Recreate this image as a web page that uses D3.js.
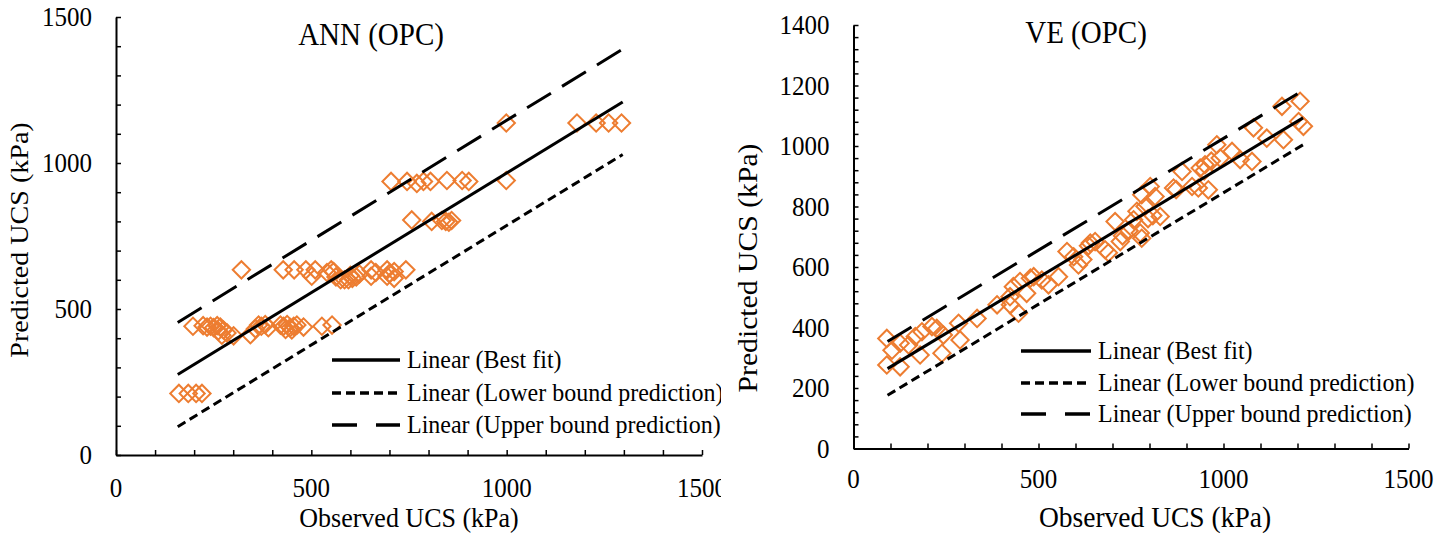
<!DOCTYPE html>
<html>
<head>
<meta charset="utf-8">
<script src="https://cdn.jsdelivr.net/npm/d3@7"></script>
<style>
  html, body { margin: 0; padding: 0; background: #fff; }
  svg { display: block; }
  text { font-family: "Liberation Serif", "Times New Roman", serif; fill: #000; }
</style>
</head>
<body>
<svg id="chart" width="1453" height="536"></svg>
<script>
// ---- ANN (OPC) data: observed vs predicted UCS (kPa) ----
const annObserved = [
  161, 185, 205, 220,
  197, 223, 233, 242, 250, 259, 267, 262, 275, 284, 271, 301, 344, 357, 365, 372,
  382, 390, 421, 429, 434, 438, 446, 450, 455, 463, 480, 527, 553,
  321, 428, 456, 486, 510, 540, 551, 557, 501, 563, 575, 585, 595, 600, 605, 615,
  623, 653, 653, 665, 694, 694, 700, 712, 712, 742,
  757, 808, 834, 844, 852, 859,
  704, 745, 770, 787, 805, 847, 886, 903, 999,
  999, 1180, 1229, 1261, 1294
];
const annPredicted = [
  211, 211, 211, 211,
  441, 443, 438, 441, 436, 443, 438, 425, 428, 418, 410, 408, 412, 432, 445, 441,
  447, 436, 445, 441, 430, 447, 436, 428, 441, 445, 438, 441, 445,
  634, 634, 634, 634, 634, 625, 634, 628, 612, 610, 600, 600, 600, 615, 605, 610,
  620, 634, 612, 625, 634, 612, 622, 628, 605, 634,
  805, 800, 803, 800, 797, 803,
  937, 937, 930, 937, 937, 940, 940, 937, 940,
  1137, 1137, 1137, 1137, 1137
];
// trend lines (observed range and predicted values at its ends)
const annFitRange = [158, 1297];
const annBestFit = [276, 1209];
const annLowerBound = [97, 1029];
const annUpperBound = [454, 1390];

// ---- VE (OPC) data ----
const veObserved = [
  90, 90, 104, 126, 126, 149, 167, 180, 185, 212, 225, 239, 243, 284, 288, 334,
  388, 424, 432, 423, 446, 450, 468, 478, 487, 509, 527, 554, 577, 608, 595, 640, 653,
  620, 635, 680, 707, 721, 757, 766, 775, 779, 779, 788, 802, 815, 829, 865, 888,
  915, 932, 937, 950, 959, 982, 991, 1023, 1045, 1077, 1081, 1117, 1158, 1162,
  1203, 1207, 1216,
  689, 727, 745, 796, 809, 872, 948, 967
];
const vePredicted = [
  364, 276, 325, 270, 348, 342, 370, 309, 386, 403, 397, 315, 375, 414, 359, 430,
  475, 475, 535, 502, 447, 552, 513, 563, 568, 557, 541, 568, 651, 607, 634, 679, 684,
  625, 670, 657, 750, 684, 756, 784, 712, 695, 839, 800, 866, 833, 767, 861, 916,
  866, 861, 927, 938, 855, 1004, 960, 982, 955, 949, 1060, 1026, 1131, 1021,
  1081, 1148, 1065,
  647, 703, 720, 760, 770, 856, 918, 950
];
const veFitRange = [92, 1215];
const veBestFit = [264, 1093];
const veLowerBound = [176, 1004];
const veUpperBound = [354, 1184];

const xTicksMajor = [0, 500, 1000, 1500];
const annYTicksMajor = [0, 500, 1000, 1500];
const veYTicksMajor = [0, 200, 400, 600, 800, 1000, 1200, 1400];

const legendLabels = ["Linear (Best fit)", "Linear (Lower bound prediction)", "Linear (Upper bound prediction)"];

const ORANGE = "#ED7D31";
const TEXT_STRETCH = 1.08;   // glyphs are drawn slightly taller than wide
const lineStyles = [
  { width: 3, dash: null },
  { width: 3, dash: "9,5" },
  { width: 3, dash: "28,13" }
];

const svg = d3.select("#chart");
const defs = svg.append("defs");
defs.append("clipPath").attr("id", "leftClip")
  .append("rect").attr("x", 0).attr("y", 0).attr("width", 721).attr("height", 536);

// horizontal text anchored at its baseline point, stretched vertically
function label(g, x, y, str, size, anchor, dy) {
  return g.append("text")
    .attr("transform", `translate(${x},${y}) scale(1,${TEXT_STRETCH})`)
    .attr("dy", dy || 0)
    .attr("text-anchor", anchor || "start")
    .attr("font-size", size)
    .text(str);
}

function drawPanel(root, cfg) {
  const x = d3.scaleLinear().domain([0, 1500]).range(cfg.xRange);
  const y = d3.scaleLinear().domain([0, cfg.yMax]).range(cfg.yRange);

  // axes with inward ticks
  const xAxis = d3.axisBottom(x)
    .tickValues(d3.range(0, 1501, 100))
    .tickSizeInner(-5).tickSizeOuter(0)
    .tickFormat("");
  const yAxis = d3.axisLeft(y)
    .tickValues(d3.range(0, cfg.yMax + 1, cfg.yMinorStep))
    .tickSizeInner(-5).tickSizeOuter(0)
    .tickFormat("");

  const gx = root.append("g").attr("transform", `translate(0,${cfg.yRange[0]})`).call(xAxis);
  const gy = root.append("g").attr("transform", `translate(${cfg.xRange[0]},0)`).call(yAxis);
  [gx, gy].forEach(g => {
    g.select(".domain").attr("stroke", "#000").attr("stroke-width", 2);
    g.selectAll(".tick line").attr("stroke", "#000").attr("stroke-width", 1.5);
  });

  // tick labels
  const tl = root.append("g");
  xTicksMajor.forEach(d => label(tl, x(d), cfg.xLabelBaseline, d, 25, "middle"));
  cfg.yTicksMajor.forEach(d => label(tl, cfg.xRange[0] - 24, y(d), d, 25, "end", "0.34em"));

  // axis titles
  label(root, cfg.xTitlePos[0], cfg.xTitlePos[1], "Observed UCS (kPa)", cfg.axisTitleSize, "middle");
  root.append("text")
    .attr("transform", `translate(${cfg.yTitlePos[0]},${cfg.yTitlePos[1]}) rotate(-90) scale(${TEXT_STRETCH},1)`)
    .attr("text-anchor", "middle").attr("dy", "0.34em").attr("font-size", cfg.axisTitleSize)
    .text("Predicted UCS (kPa)");

  // chart title
  label(root, cfg.titlePos[0], cfg.titlePos[1], cfg.title, 29, "middle");

  // scatter markers (open diamonds)
  const pts = cfg.obs.map((o, i) => [o, cfg.pred[i]]);
  const diamond = d3.symbol(d3.symbolSquare, 150);
  root.append("g").selectAll("path").data(pts).join("path")
    .attr("d", diamond)
    .attr("transform", d => `translate(${x(d[0])},${y(d[1])}) rotate(45)`)
    .attr("fill", "none").attr("stroke", ORANGE).attr("stroke-width", 2);

  // trend lines
  const line = d3.line().x(d => x(d[0])).y(d => y(d[1]));
  cfg.lines.forEach((vals, i) => {
    const p = root.append("path")
      .datum(cfg.fitRange.map((xv, k) => [xv, vals[k]]))
      .attr("d", line)
      .attr("fill", "none").attr("stroke", "#000")
      .attr("stroke-width", lineStyles[i].width);
    if (lineStyles[i].dash) p.attr("stroke-dasharray", lineStyles[i].dash);
  });

  // legend
  const lg = root.append("g");
  legendLabels.forEach((lab, i) => {
    const ly = cfg.legendRows[i];
    const l = lg.append("line")
      .attr("x1", cfg.legendX[0]).attr("x2", cfg.legendX[1])
      .attr("y1", ly).attr("y2", ly)
      .attr("stroke", "#000").attr("stroke-width", 3.5);
    if (i === 1) l.attr("stroke-dasharray", "9,5");
    if (i === 2) l.attr("stroke-dasharray", "25,19");
    label(lg, cfg.legendX[1] + 7, ly, lab, 24, "start", "0.32em");
  });
}

drawPanel(svg.append("g").attr("clip-path", "url(#leftClip)"), {
  title: "ANN (OPC)",
  xRange: [116, 702], yRange: [455, 17], yMax: 1500, yMinorStep: 100,
  yTicksMajor: annYTicksMajor, xLabelBaseline: 497,
  xTitlePos: [409, 527], yTitlePos: [19, 240], axisTitleSize: 26,
  titlePos: [371, 45],
  obs: annObserved, pred: annPredicted,
  fitRange: annFitRange, lines: [annBestFit, annLowerBound, annUpperBound],
  legendX: [332, 400], legendRows: [360, 393, 425]
});

drawPanel(svg.append("g"), {
  title: "VE (OPC)",
  xRange: [853.5, 1408.5], yRange: [448.5, 25], yMax: 1400, yMinorStep: 40,
  yTicksMajor: veYTicksMajor, xLabelBaseline: 488,
  xTitlePos: [1155, 527], yTitlePos: [748, 268], axisTitleSize: 27.5,
  titlePos: [1086, 43],
  obs: veObserved, pred: vePredicted,
  fitRange: veFitRange, lines: [veBestFit, veLowerBound, veUpperBound],
  legendX: [1021, 1091], legendRows: [351, 383, 414]
});
</script>
</body>
</html>
